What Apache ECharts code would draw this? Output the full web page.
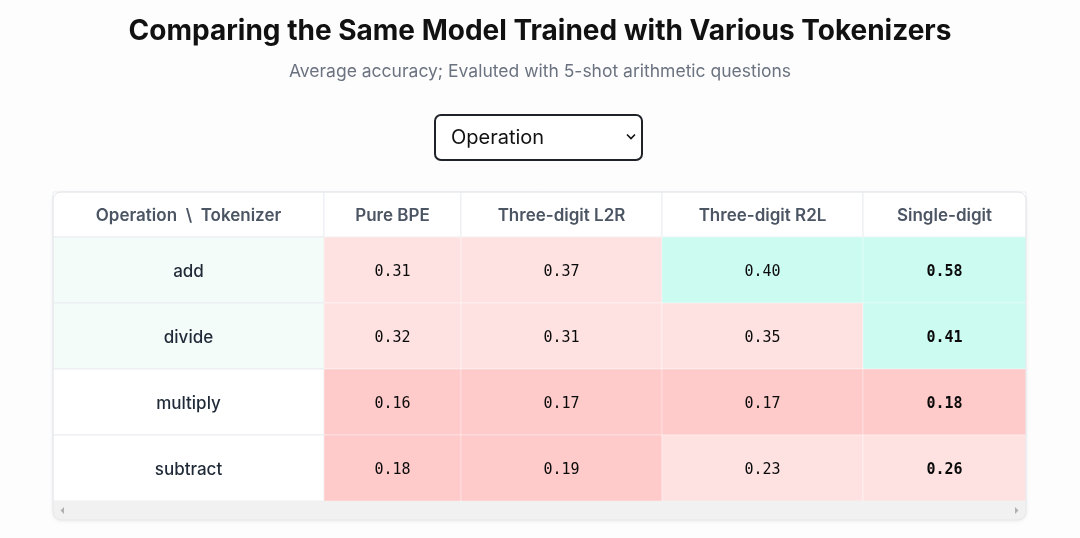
<!DOCTYPE html>
<html>
<head>
<meta charset="utf-8">
<script src="https://cdn.jsdelivr.net/npm/echarts@6/dist/echarts.min.js"></script>
<style>
  html, body { margin: 0; padding: 0; background: #fdfdfd; }
  #main { width: 1080px; height: 538px; }
</style>
</head>
<body>
<div id="main"></div>
<script>
var operations = ['add', 'divide', 'multiply', 'subtract'];
var tokenizers = ['Pure BPE', 'Three-digit L2R', 'Three-digit R2L', 'Single-digit'];
var cornerLabel = 'Operation  \\  Tokenizer';
// accuracy per operation row, one value per tokenizer
var accAdd = [0.31, 0.37, 0.40, 0.58];
var accDivide = [0.32, 0.31, 0.35, 0.41];
var accMultiply = [0.16, 0.17, 0.17, 0.18];
var accSubtract = [0.18, 0.19, 0.23, 0.26];
var accuracy = [accAdd, accDivide, accMultiply, accSubtract];

// layout: widths of the label column + each tokenizer column (px)
var colWidths = [271, 137, 201, 201, 163];
var colEdges = [0];
colWidths.forEach(function (w) { colEdges.push(colEdges[colEdges.length - 1] + w); });
var tableW = colEdges[colEdges.length - 1];
var tableLeft = 53, headTop = 192, headH = 45, rowH = 66;
var bodyTop = headTop + headH;
var bodyH = rowH * operations.length;

var headerData = [[0, 0, cornerLabel]];
tokenizers.forEach(function (t, i) { headerData.push([i + 1, 0, t]); });

var labelData = operations.map(function (op, r) {
  var best = Math.max.apply(null, accuracy[r]);
  return [0, r, op, best];
});

var cellData = [];
accuracy.forEach(function (row, r) {
  var best = Math.max.apply(null, row);
  row.forEach(function (v, c) {
    cellData.push([c + 1, r, v, v === best ? 1 : 0]);
  });
});

function cellRect(api, c, r) {
  var p0 = api.coord([colEdges[c], r]);
  var p1 = api.coord([colEdges[c + 1], r]);
  var h = api.size([0, 1])[1];
  return { x: p0[0], y: p0[1] - h / 2, width: p1[0] - p0[0], height: h };
}

function renderHeader(params, api) {
  var c = api.value(0);
  var rect = cellRect(api, c, api.value(1));
  return {
    type: 'group',
    children: [
      { type: 'rect', shape: rect, style: { fill: '#ffffff', stroke: '#ebedf0', lineWidth: 1 } },
      { type: 'text', style: {
          x: rect.x + rect.width / 2, y: rect.y + rect.height / 2 + 1,
          text: api.value(2), align: 'center', verticalAlign: 'middle',
          font: '600 17px Inter, "Noto Sans", sans-serif', fill: '#4b5563'
      } }
    ]
  };
}

function renderLabel(params, api) {
  var rect = cellRect(api, 0, api.value(1));
  var tinted = api.value(3) >= 0.4;
  return {
    type: 'group',
    children: [
      { type: 'rect', shape: rect, style: { fill: tinted ? '#f3fcf9' : '#ffffff', stroke: '#ebedf0', lineWidth: 1 } },
      { type: 'text', style: {
          x: rect.x + rect.width / 2, y: rect.y + rect.height / 2 + 1.5,
          text: api.value(2), align: 'center', verticalAlign: 'middle',
          font: '500 17px Inter, "Noto Sans", sans-serif', fill: '#1f2937'
      } }
    ]
  };
}

function renderCell(params, api) {
  var rect = cellRect(api, api.value(0), api.value(1));
  var bold = api.value(3) === 1;
  return {
    type: 'group',
    children: [
      { type: 'rect', shape: rect, style: { fill: api.visual('color'), stroke: 'rgba(255,255,255,0.35)', lineWidth: 1 } },
      { type: 'text', style: {
          x: rect.x + rect.width / 2, y: rect.y + rect.height / 2 + 2,
          text: api.value(2).toFixed(2), align: 'center', verticalAlign: 'middle',
          font: (bold ? 'bold ' : '') + '15px "DejaVu Sans Mono", monospace', fill: '#0a0a0a'
      } }
    ]
  };
}

var myChart = echarts.init(document.getElementById('main'));
myChart.setOption({
  backgroundColor: '#fdfdfd',
  animation: false,
  title: {
    text: 'Comparing the Same Model Trained with Various Tokenizers',
    subtext: 'Average accuracy; Evaluted with 5-shot arithmetic questions',
    left: 'center',
    top: 10,
    itemGap: 12,
    textStyle: { fontFamily: 'Inter', fontSize: 28, fontWeight: 700, color: '#111111', lineHeight: 34 },
    subtextStyle: { fontFamily: 'Inter', fontSize: 17.5, color: '#6b7280', lineHeight: 22 }
  },
  grid: [
    { left: tableLeft, top: headTop, width: tableW, height: headH },
    { left: tableLeft, top: bodyTop, width: tableW, height: bodyH }
  ],
  xAxis: [
    { type: 'value', gridIndex: 0, min: 0, max: tableW, show: false },
    { type: 'value', gridIndex: 1, min: 0, max: tableW, show: false }
  ],
  yAxis: [
    { type: 'category', gridIndex: 0, data: ['header'], show: false },
    { type: 'category', gridIndex: 1, data: operations, inverse: true, show: false }
  ],
  visualMap: {
    type: 'piecewise',
    show: false,
    seriesIndex: 2,
    dimension: 2,
    pieces: [
      { lt: 0.2, color: '#fecaca' },
      { gte: 0.2, lt: 0.4, color: '#fee2e2' },
      { gte: 0.4, color: '#ccfbf1' }
    ]
  },
  graphic: [
    { type: 'rect', z: 0, shape: { x: tableLeft, y: headTop, width: tableW, height: 328, r: 8 },
      style: { fill: '#ffffff', shadowBlur: 4, shadowColor: 'rgba(0,0,0,0.08)', shadowOffsetY: 1 } },
    { type: 'rect', z: 5, shape: { x: tableLeft, y: bodyTop + bodyH, width: tableW, height: 328 - headH - bodyH, r: [0, 0, 8, 8] },
      style: { fill: '#f1f1f1' } },
    { type: 'polygon', z: 6, shape: { points: [[64, 507], [64, 514], [60.5, 510.5]] }, style: { fill: '#b0b0b0' } },
    { type: 'polygon', z: 6, shape: { points: [[1015, 507], [1015, 514], [1018.5, 510.5]] }, style: { fill: '#b0b0b0' } },
    { type: 'rect', z: 10, shape: { x: tableLeft, y: headTop, width: tableW, height: 328, r: 8 },
      style: { fill: 'none', stroke: '#e5e7eb', lineWidth: 1 } },
    { type: 'rect', z: 10, shape: { x: 435, y: 115, width: 207, height: 45, r: 6 },
      style: { fill: '#ffffff', stroke: '#1f2328', lineWidth: 2 } },
    { type: 'text', z: 11, style: { x: 451, y: 138, text: 'Operation', verticalAlign: 'middle',
      font: '20px Inter, "Noto Sans", sans-serif', fill: '#111111' } },
    { type: 'polyline', z: 11, shape: { points: [[627, 134.5], [631, 138.5], [635, 134.5]] },
      style: { stroke: '#111111', lineWidth: 1.6, fill: 'none' } }
  ],
  series: [
    { type: 'custom', xAxisIndex: 0, yAxisIndex: 0, z: 3, renderItem: renderHeader,
      encode: { x: 0, y: 1 }, data: headerData },
    { type: 'custom', xAxisIndex: 1, yAxisIndex: 1, z: 3, renderItem: renderLabel,
      encode: { x: 0, y: 1 }, data: labelData },
    { type: 'custom', xAxisIndex: 1, yAxisIndex: 1, z: 3, renderItem: renderCell,
      encode: { x: 0, y: 1 }, data: cellData }
  ]
});
</script>
</body>
</html>
